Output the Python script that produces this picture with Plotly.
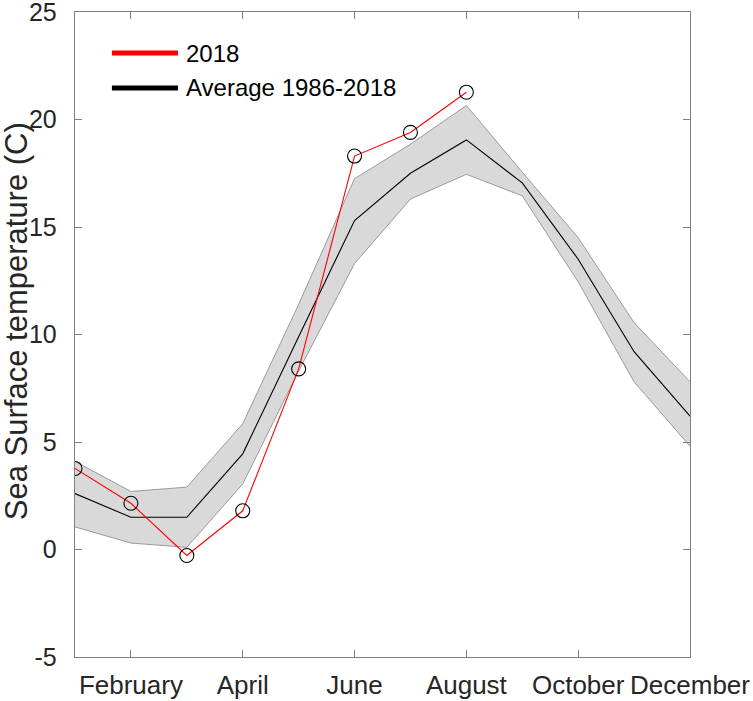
import plotly.graph_objects as go

months = [1, 2, 3, 4, 5, 6, 7, 8, 9, 10, 11, 12]
avg_1986_2018 = [2.6, 1.5, 1.5, 4.45, 9.9, 15.3, 17.5, 19.05, 17.05, 13.5, 9.2, 6.2]
band_upper = [4.1, 2.7, 2.9, 5.85, 11.4, 17.25, 18.85, 20.65, 17.55, 14.5, 10.55, 7.8]
band_lower = [1.05, 0.3, 0.1, 3.05, 8.3, 13.3, 16.3, 17.45, 16.45, 12.45, 7.8, 4.8]
months_2018 = [1, 2, 3, 4, 5, 6, 7, 8]
sst_2018 = [3.77, 2.15, -0.28, 1.8, 8.4, 18.3, 19.4, 21.27]

tick_vals = [2, 4, 6, 8, 10, 12]
tick_text = ["February", "April", "June", "August", "October", "December"]
y_ticks = [-5, 0, 5, 10, 15, 20, 25]
y_tick_text = ["-5", "0", "5", "10", "15", "20", "25"]

FONT = "Liberation Sans, Arial, Helvetica, sans-serif"
AXIS_COL = "#808080"
TXT_COL = "#262626"

fig = go.Figure()

fig.add_trace(go.Scatter(x=months, y=band_upper, mode="lines",
                         line=dict(color="#9a9a9a", width=1), showlegend=False,
                         hoverinfo="skip"))
fig.add_trace(go.Scatter(x=months, y=band_lower, mode="lines", fill="tonexty",
                         fillcolor="#d9d9d9",
                         line=dict(color="#9a9a9a", width=1), showlegend=False,
                         hoverinfo="skip"))
fig.add_trace(go.Scatter(x=months, y=avg_1986_2018, mode="lines",
                         line=dict(color="#000000", width=1.1),
                         name="Average 1986-2018", showlegend=False))
fig.add_trace(go.Scatter(x=months_2018, y=sst_2018, mode="lines+markers",
                         line=dict(color="#ff0000", width=1.1),
                         marker=dict(symbol="circle-open", size=14,
                                     color="#000000", line=dict(width=1.1, color="#000000")),
                         name="2018", showlegend=False))

# manual legend (MATLAB style: long thick line samples, no box)
legend_items = [("2018", "#ff0000", 0.9364), ("Average 1986-2018", "#000000", 0.8822)]
for label, col, yp in legend_items:
    fig.add_shape(type="line", xref="paper", yref="paper",
                  x0=0.060, x1=0.1675, y0=yp, y1=yp,
                  line=dict(color=col, width=5))
    fig.add_annotation(xref="paper", yref="paper", x=0.178, y=yp,
                       text=label, showarrow=False, xanchor="left", yanchor="middle",
                       font=dict(family=FONT, size=24, color="#000000"))

# y-axis title
fig.add_annotation(xref="paper", yref="paper", x=-0.095, y=0.52,
                   text="Sea Surface temperature (C)", textangle=-90,
                   showarrow=False, xanchor="center", yanchor="middle",
                   font=dict(family=FONT, size=31, color=TXT_COL))

fig.update_xaxes(range=[1, 12], tickvals=tick_vals, ticktext=tick_text,
                 showgrid=False, zeroline=False, automargin=False,
                 showline=True, linecolor=AXIS_COL, linewidth=1.3, mirror="ticks",
                 ticks="inside", ticklen=7, tickcolor=AXIS_COL, tickwidth=1,
                 ticklabelstandoff=4, ticklabeloverflow="allow",
                 tickfont=dict(family=FONT, size=26, color=TXT_COL))
fig.update_yaxes(range=[-5, 25], tickvals=y_ticks, ticktext=y_tick_text,
                 showgrid=False, zeroline=False, automargin=False,
                 showline=True, linecolor=AXIS_COL, linewidth=1.3, mirror="ticks",
                 ticks="inside", ticklen=7, tickcolor=AXIS_COL, tickwidth=1,
                 ticklabelstandoff=12, ticklabeloverflow="allow",
                 tickfont=dict(family=FONT, size=25, color=TXT_COL))

fig.update_layout(width=753, height=701,
                  margin=dict(l=75, r=63, t=12, b=44),
                  paper_bgcolor="white", plot_bgcolor="white",
                  showlegend=False)

# remove the default 8px page margin so the figure fills the window exactly
fig.write_html("out.html",
               config={"displayModeBar": False, "staticPlot": True},
               post_script="document.body.style.margin='0';document.body.style.overflow='hidden';")
